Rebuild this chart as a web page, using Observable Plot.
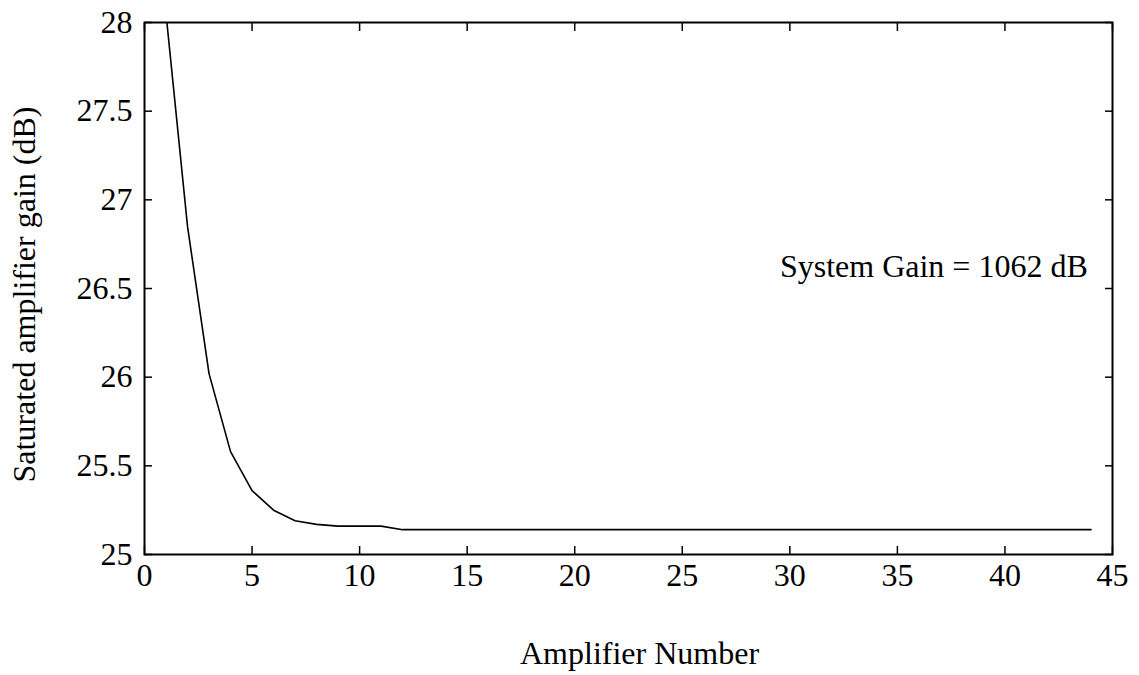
<!DOCTYPE html>
<html>
<head>
<meta charset="utf-8">
<script src="https://cdn.jsdelivr.net/npm/d3@7"></script>
<script src="https://cdn.jsdelivr.net/npm/@observablehq/plot@0.6"></script>
<style>
  html, body { margin: 0; padding: 0; background: #fff; }
  svg { display: block; }
</style>
</head>
<body>
<div id="chart"></div>
<script>
const amplifier = [1,2,3,4,5,6,7,8,9,10,11,12,13,14,15,16,17,18,19,20,21,22,23,24,25,26,27,28,29,30,31,32,33,34,35,36,37,38,39,40,41,42,43,44];
const gain = [28.05,26.85,26.02,25.58,25.36,25.25,25.19,25.17,25.16,25.16,25.16,25.14,25.14,25.14,25.14,25.14,25.14,25.14,25.14,25.14,25.14,25.14,25.14,25.14,25.14,25.14,25.14,25.14,25.14,25.14,25.14,25.14,25.14,25.14,25.14,25.14,25.14,25.14,25.14,25.14,25.14,25.14,25.14,25.14];
const xTicks = [0,5,10,15,20,25,30,35,40,45];
const yTicks = [25,25.5,26,26.5,27,27.5,28];
const annotation = [{x: 43.85, y: 26.62, text: "System Gain = 1062 dB"}];
const xLabel = "Amplifier Number";
const yLabel = "Saturated amplifier gain (dB)";

const data = amplifier.map((a, i) => ({a, g: gain[i]}));
const fmt = d => String(d);
const FS = 32;

const chart = Plot.plot({
  width: 1139,
  height: 675,
  marginLeft: 144,
  marginRight: 27,
  marginTop: 22,
  marginBottom: 121,
  style: {fontFamily: "'Liberation Serif', 'Times New Roman', serif", fontSize: FS + "px", color: "#000", background: "#fff"},
  x: {domain: [0, 45]},
  y: {domain: [25, 28]},
  marks: [
    Plot.axisX({anchor: "bottom", ticks: xTicks, tickSize: 0, tickPadding: 9, tickFormat: fmt, fontSize: FS, label: null}),
    Plot.axisY({anchor: "left", ticks: yTicks, tickSize: 0, tickPadding: 12, tickFormat: fmt, fontSize: FS, label: null}),
    Plot.axisX({anchor: "bottom", ticks: xTicks, tickSize: -8, text: null, label: null, strokeWidth: 1.5}),
    Plot.axisX({anchor: "top", ticks: xTicks, tickSize: -8, text: null, label: null, strokeWidth: 1.5}),
    Plot.axisY({anchor: "left", ticks: yTicks, tickSize: -8, text: null, label: null, strokeWidth: 1.5}),
    Plot.axisY({anchor: "right", ticks: yTicks, tickSize: -8, text: null, label: null, strokeWidth: 1.5}),
    Plot.text([xLabel], {frameAnchor: "bottom", text: d => d, dx: 11, dy: 109, lineAnchor: "bottom", textAnchor: "middle", fontSize: FS, fill: "#000"}),
    Plot.text([yLabel], {frameAnchor: "left", text: d => d, dx: -132, dy: 6, rotate: -90, lineAnchor: "top", textAnchor: "middle", fontSize: FS, fill: "#000"}),
    Plot.line(data, {x: "a", y: "g", stroke: "#000", strokeWidth: 1.6, clip: true}),
    Plot.text(annotation, {x: "x", y: "y", text: "text", textAnchor: "end", fontSize: FS, fill: "#000"}),
    Plot.frame({stroke: "#000", strokeWidth: 2})
  ]
});
document.getElementById("chart").appendChild(chart);
</script>
</body>
</html>
